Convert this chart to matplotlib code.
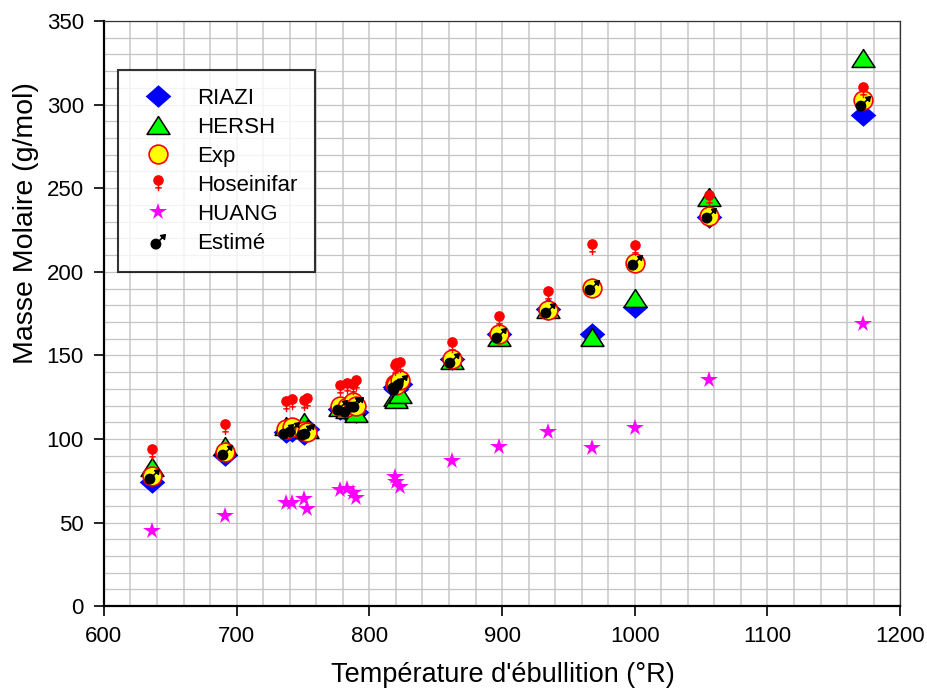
import numpy as np
import matplotlib
matplotlib.use("Agg")
import matplotlib.pyplot as plt
from matplotlib.path import Path
from matplotlib.ticker import MultipleLocator

plt.rcParams['font.family'] = ['Liberation Sans', 'DejaVu Sans']

# Température d'ébullition (°R)
temperature = [636, 691, 737, 742, 751, 753, 778, 783, 788, 790,
               819, 820, 823, 862, 898, 935, 968, 1000, 1056, 1172]

# Masse molaire (g/mol) par méthode
riazi = [74.5, 90.5, 104, 105, 103, 106, 118, 117, 119, 116,
         131, 130, 133, 148, 163, 178, 163, 179, 233, 294]
hersh = [83, 96, 108, 107, 110, 106, 119, 118, 120, 115.5,
         125, 124, 127, 147, 161, 178, 161, 184.5, 245, 328]
exp = [78, 92, 106, 107, 105, 104, 120, 119, 122, 120,
       133, 132, 135, 148, 163, 177, 190.5, 205, 233.5, 303]
hoseinifar = [92, 107, 121, 122, 121.5, 123, 130.5, 131.5, 131, 133.5,
              142.5, 143.5, 144, 156, 172, 187, 215, 214.5, 244, 308.5]
huang = [45, 53.7, 61.5, 61.5, 63.9, 58, 69.3, 69.8, 68, 65,
         77, 74, 71, 87, 95.2, 104, 94.8, 106.8, 135, 169]
estime = [78, 92, 105, 106, 104, 105, 119, 118, 121, 121,
          132, 131, 134, 147, 162, 177, 191, 206, 234, 301]

# Marqueurs personnalisés
diamant = Path([(0, -0.88), (1, 0), (0, 0.88), (-1, 0), (0, -0.88)],
               [Path.MOVETO, Path.LINETO, Path.LINETO, Path.LINETO, Path.CLOSEPOLY])
triangle = Path([(-1, -0.78), (1, -0.78), (0, 0.78), (-1, -0.78)],
                [Path.MOVETO, Path.LINETO, Path.LINETO, Path.CLOSEPOLY])

# symbole femelle (cercle plein + croix)
venus = Path.make_compound_path(
    Path.circle(center=(0, 2.8), radius=4.2),
    Path([(0, -1), (0, -7)], [Path.MOVETO, Path.LINETO]),
    Path([(-3, -4), (3, -4)], [Path.MOVETO, Path.LINETO]),
)
# symbole mâle (cercle plein + flèche)
mars = Path.make_compound_path(
    Path.circle(center=(-2.5, -2.5), radius=4.5),
    Path([(0.6, 0.6), (4.5, 4.5)], [Path.MOVETO, Path.LINETO]),
    Path([(6.5, 6.5), (2.0, 5.7), (5.7, 2.0), (6.5, 6.5)],
         [Path.MOVETO, Path.LINETO, Path.LINETO, Path.CLOSEPOLY]),
)

fig = plt.figure(figsize=(9.28, 7), dpi=100)
ax = fig.add_axes([0.112, 0.134, 0.858, 0.836])

ax.plot(temperature, riazi, ls='none', marker=diamant, ms=18.5,
        mfc='#0000ff', mec='#0000ff', mew=0, label='RIAZI')
ax.plot(temperature, hersh, ls='none', marker=triangle, ms=16.5,
        mfc='#00ff00', mec='black', mew=1.1, label='HERSH')
ax.plot(temperature, exp, ls='none', marker='o', ms=13.5,
        mfc='#ffff00', mec='#ff0000', mew=1.2, label='Exp')
ax.plot(temperature, hoseinifar, ls='none', marker=venus, ms=11,
        mfc='#ff0000', mec='#ff0000', mew=1.0, label='Hoseinifar')
ax.plot(temperature, huang, ls='none', marker='*', ms=13,
        mfc='#ff00ff', mec='#ff00ff', mew=0, label='HUANG')
ax.plot(temperature, estime, ls='none', marker=mars, ms=10.5,
        mfc='black', mec='black', mew=1.1, label='Estimé')

ax.set_xlim(600, 1200)
ax.set_ylim(0, 350)
ax.xaxis.set_major_locator(MultipleLocator(100))
ax.yaxis.set_major_locator(MultipleLocator(50))
ax.xaxis.set_minor_locator(MultipleLocator(20))
ax.yaxis.set_minor_locator(MultipleLocator(10))

ax.grid(which='both', axis='x', color='#c8c8c8', lw=1.1)
ax.grid(which='both', axis='y', color='#c4c4c4', lw=0.9)
ax.set_axisbelow(True)

ax.tick_params(which='major', direction='out', length=7, width=1.2,
               labelsize=16, pad=7.5)
ax.tick_params(which='minor', length=0)

for side in ['left', 'bottom']:
    ax.spines[side].set_linewidth(1.6)
for side in ['top', 'right']:
    ax.spines[side].set_linewidth(0.9)
    ax.spines[side].set_color('#333333')

ax.set_xlabel("Température d'ébullition (°R)", fontsize=19.5)
ax.set_ylabel("Masse Molaire (g/mol)", fontsize=20.5)
ax.xaxis.set_label_coords(0.5006, -0.095)
ax.yaxis.set_label_coords(-0.082, 0.655)

leg = ax.legend(loc='upper left', bbox_to_anchor=(0.0176, 0.916),
                borderaxespad=0, fontsize=16, frameon=True, fancybox=False,
                edgecolor='black', borderpad=0.8, labelspacing=0.36,
                handlelength=2.0, handletextpad=0.75)
leg.get_frame().set_linewidth(1.5)

plt.savefig('out.png', dpi=100)
